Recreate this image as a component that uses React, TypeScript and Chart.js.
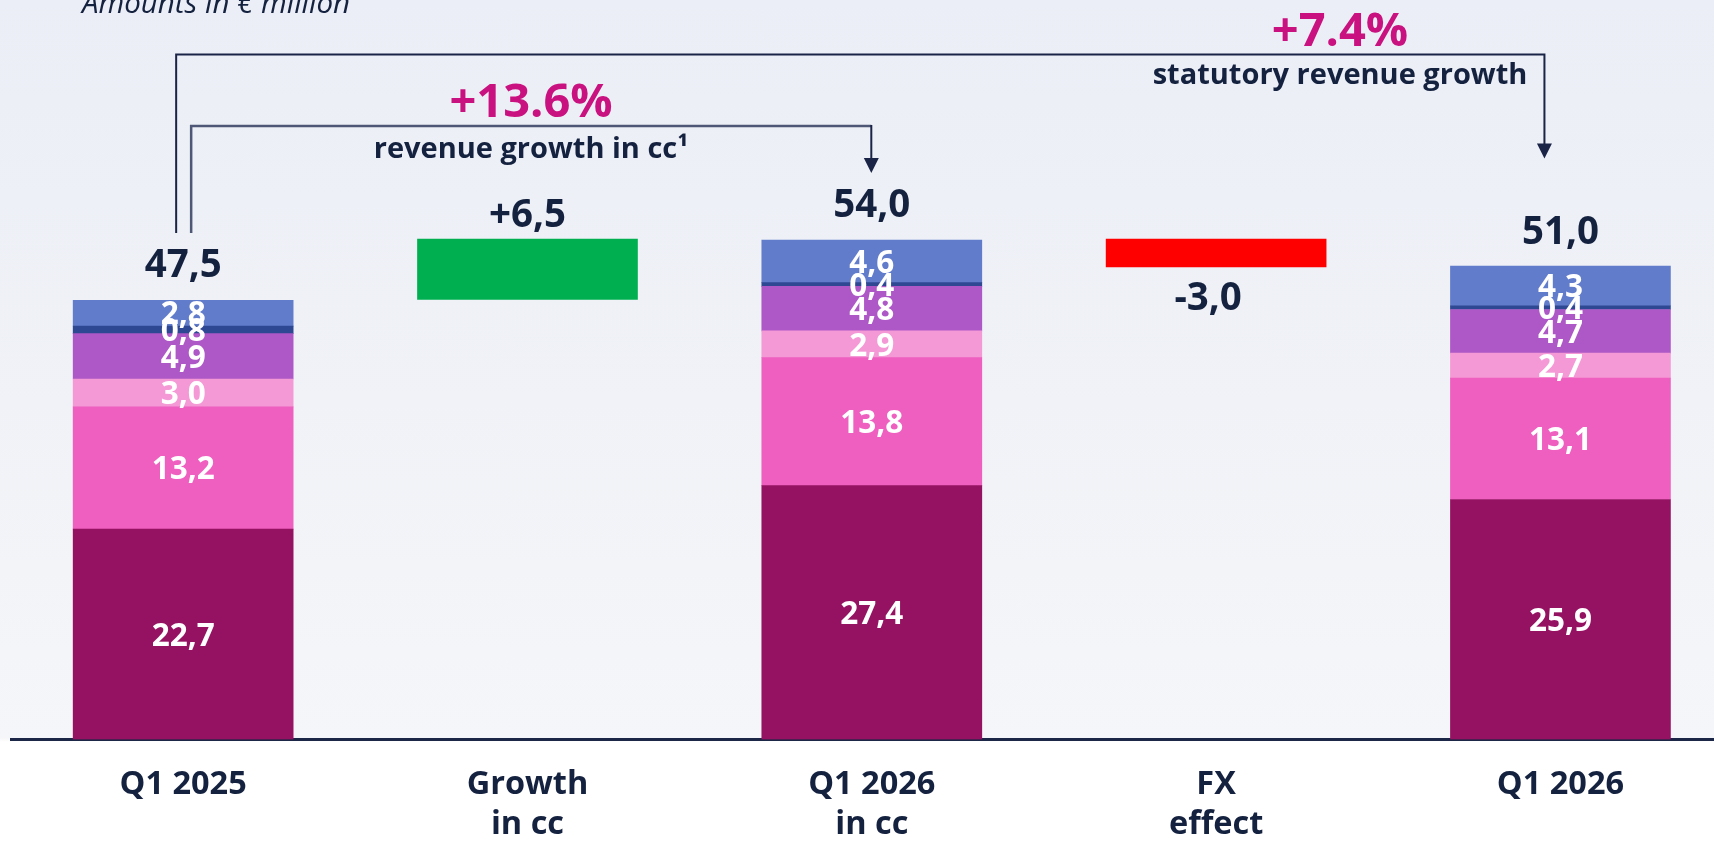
import React, { useEffect, useRef } from "react";
import { Chart, registerables } from "chart.js";

Chart.register(...registerables);

// ---------- data ----------
const categories: string[][] = [
  ["Q1 2025"],
  ["Growth", "in cc"],
  ["Q1 2026", "in cc"],
  ["FX", "effect"],
  ["Q1 2026"],
];
const segA = [22.7, null, 27.4, null, 25.9];
const segB = [13.2, null, 13.8, null, 13.1];
const segC = [3.0, null, 2.9, null, 2.7];
const segD = [4.9, null, 4.8, null, 4.7];
const segE = [0.8, null, 0.4, null, 0.4];
const segF = [2.8, null, 4.6, null, 4.3];
const bridgeBase = [null, 47.5, null, 51.0, null];
const bridgeDelta = [null, 6.5, null, 3.0, null];
const totals = [47.5, null, 54.0, null, 51.0];
const deltaLabels = ["", "+6,5", "", "-3,0", ""];
const deltaSign = [0, 1, 0, -1, 0];

const segments = [segA, segB, segC, segD, segE, segF];
const segColors = ["#951262", "#ee5fbf", "#f499d6", "#ad58c6", "#2e4893", "#627ccc"];

const NAVY = "#14213f";
const MAGENTA = "#c9117f";
const FONT = '"Open Sans", "Noto Sans", sans-serif';
const SEG_SIZE = 31.5;

const fmt = (v: number) => v.toFixed(1).replace(".", ",");

const labelPlugin = {
  id: "labels",
  afterDatasetsDraw(chart: any) {
    const { ctx } = chart;
    const ys = chart.scales.y;
    ctx.save();
    ctx.textAlign = "center";
    ctx.textBaseline = "alphabetic";
    // segment labels
    ctx.font = `bold ${SEG_SIZE}px ${FONT}`;
    ctx.fillStyle = "#ffffff";
    segments.forEach((vals, di) => {
      const meta = chart.getDatasetMeta(di);
      vals.forEach((v, i) => {
        if (v == null) return;
        const el = meta.data[i];
        const cy = (el.y + el.base) / 2;
        ctx.fillText(fmt(v), el.x, cy + 0.357 * SEG_SIZE);
      });
    });
    // totals
    ctx.font = `bold 38.5px ${FONT}`;
    ctx.fillStyle = NAVY;
    const xs = chart.scales.x;
    totals.forEach((t, i) => {
      if (t == null) return;
      const top = ys.getPixelForValue(t);
      ctx.fillText(fmt(t), xs.getPixelForValue(i), top - 22.5);
    });
    // deltas
    deltaLabels.forEach((lab, i) => {
      if (!lab) return;
      const base = bridgeBase[i] as number;
      const d = bridgeDelta[i] as number;
      const cx = xs.getPixelForValue(i);
      if (deltaSign[i] > 0) {
        ctx.fillText(lab, cx, ys.getPixelForValue(base + d) - 12);
      } else {
        ctx.fillText(lab, cx - 8, ys.getPixelForValue(base) + 43);
      }
    });
    ctx.restore();
  },
};

const annotPlugin = {
  id: "annot",
  afterDraw(chart: any) {
    const { ctx } = chart;
    const xs = chart.scales.x;
    const c0 = xs.getPixelForValue(0);
    const c2 = xs.getPixelForValue(2);
    const c4 = xs.getPixelForValue(4);
    ctx.save();
    const arrowHead = (x: number, tip: number, color: string) => {
      ctx.fillStyle = color;
      ctx.beginPath();
      ctx.moveTo(x - 7.5, tip - 15);
      ctx.lineTo(x + 7.5, tip - 15);
      ctx.lineTo(x, tip);
      ctx.closePath();
      ctx.fill();
    };
    // outer bracket
    const ox1 = c0 - 7;
    const ox2 = c4 - 16;
    ctx.strokeStyle = "#1a2446";
    ctx.lineWidth = 2;
    ctx.beginPath();
    ctx.moveTo(ox1, 233);
    ctx.lineTo(ox1, 54.5);
    ctx.lineTo(ox2, 54.5);
    ctx.lineTo(ox2, 146);
    ctx.stroke();
    arrowHead(ox2, 158.5, "#1a2446");
    // inner bracket
    const ix1 = c0 + 8;
    const ix2 = c2 - 0.5;
    ctx.strokeStyle = "#4f5777";
    ctx.lineWidth = 2.5;
    ctx.beginPath();
    ctx.moveTo(ix1, 233);
    ctx.lineTo(ix1, 126);
    ctx.lineTo(ix2, 126);
    ctx.stroke();
    ctx.strokeStyle = "#1a2446";
    ctx.lineWidth = 2;
    ctx.beginPath();
    ctx.moveTo(ix2, 125);
    ctx.lineTo(ix2, 160);
    ctx.stroke();
    arrowHead(ix2, 173, "#1a2446");

    // texts
    ctx.textAlign = "center";
    ctx.textBaseline = "alphabetic";
    ctx.fillStyle = MAGENTA;
    ctx.font = `bold 47px ${FONT}`;
    ctx.fillText("+13.6%", 531, 117);
    ctx.fillText("+7.4%", 1340, 46);
    ctx.fillStyle = NAVY;
    ctx.font = `bold 29px ${FONT}`;
    ctx.fillText("revenue growth in cc\u00B9", 531, 158);
    ctx.fillText("statutory revenue growth", 1340, 84);
    ctx.textAlign = "left";
    ctx.font = `italic 29.5px ${FONT}`;
    ctx.fillText("Amounts in \u20AC million", 82, 12.7);
    ctx.restore();
  },
};

export default function App() {
  const ref = useRef<HTMLCanvasElement | null>(null);
  useEffect(() => {
    if (!ref.current) return;
    const segDatasets = segments.map((vals, i) => ({
      label: `seg${i}`,
      data: vals,
      backgroundColor: segColors[i],
      borderWidth: 0,
      stack: "s",
    }));
    const chart = new Chart(ref.current, {
      type: "bar",
      data: {
        labels: categories,
        datasets: [
          ...segDatasets,
          {
            label: "base",
            data: bridgeBase,
            backgroundColor: "rgba(0,0,0,0)",
            borderWidth: 0,
            stack: "s",
          },
          {
            label: "delta",
            data: bridgeDelta,
            backgroundColor: deltaSign.map((s) => (s > 0 ? "#00b050" : "#ff0000")),
            borderWidth: 0,
            stack: "s",
          },
        ] as any,
      },
      options: {
        responsive: false,
        animation: false,
        devicePixelRatio: 1,
        layout: { padding: { left: 11, right: 11.4, top: 0, bottom: 0 } },
        plugins: { legend: { display: false }, tooltip: { enabled: false } },
        datasets: { bar: { barThickness: 220 } } as any,
        scales: {
          x: {
            stacked: true,
            z: 1,
            grid: { display: false, drawTicks: false },
            border: { display: true, color: "#1c2747", width: 3 },
            ticks: {
              color: NAVY,
              font: { family: FONT, size: 32.5, weight: "bold", lineHeight: 40 / 32.5 } as any,
              padding: 25.5,
              maxRotation: 0,
              autoSkip: false,
            },
            afterFit: (s: any) => {
              s.height = 102.5;
            },
          },
          y: {
            stacked: true,
            display: false,
            min: 0,
            max: 79.8,
          },
        },
      } as any,
      plugins: [labelPlugin, annotPlugin],
    });
    return () => chart.destroy();
  }, []);

  return (
    <div
      style={{
        position: "fixed",
        left: 0,
        top: 0,
        width: "100vw",
        height: "100vh",
        overflow: "hidden",
        background:
          "linear-gradient(to bottom, #ebeef6 0px, #f0f2f7 400px, #f5f6f9 738px, #ffffff 742px, #ffffff 842px)",
      }}
    >
      <canvas ref={ref} width={1744} height={842} style={{ display: "block" }} />
    </div>
  );
}
